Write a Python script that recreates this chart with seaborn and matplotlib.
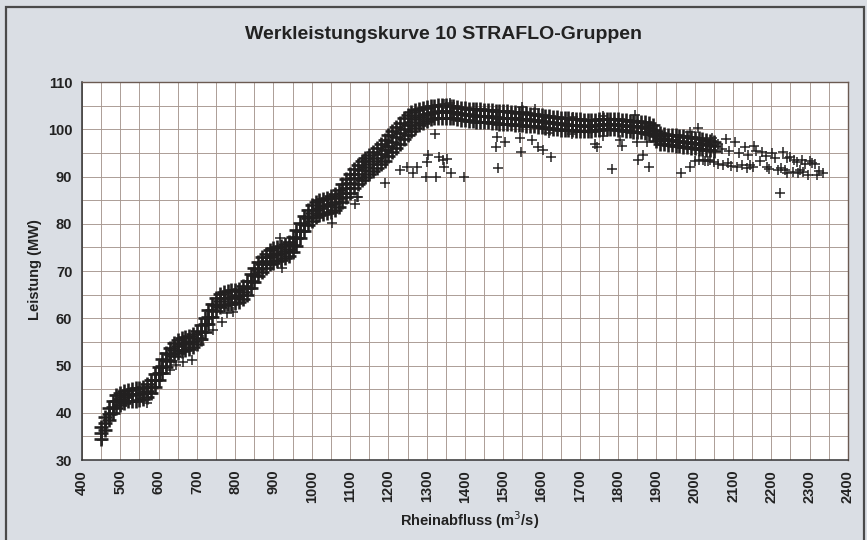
import numpy as np
import pandas as pd
import matplotlib
matplotlib.use("Agg")
from matplotlib import pyplot as plt
from matplotlib.patches import Rectangle
import seaborn as sns

# --- dense band, every 10 m3/s (lower edge, middle, upper edge)
band_x = list(range(450, 2060, 10))
band_lo = [
    34.5, 36.4, 38.4, 40.0, 41.1, 41.7, 42.1, 42.4, 42.5, 42.6, 42.7, 42.9, 43.3, 44.1, 45.5, 47.0,
    48.5, 49.8, 51.0, 52.0, 52.7, 53.1, 53.4, 53.6, 53.9, 54.5, 55.6, 57.2, 58.7, 60.2, 61.5, 62.3,
    62.8, 63.0, 63.1, 63.2, 63.5, 64.0, 65.0, 66.4, 67.7, 68.9, 69.9, 70.7, 71.4, 71.8, 72.1, 72.4,
    72.7, 73.2, 74.0, 75.4, 76.9, 78.4, 79.7, 80.7, 81.4, 81.8, 82.1, 82.3, 82.5, 82.9, 83.6, 84.6,
    85.7, 86.6, 87.6, 88.5, 89.3, 90.0, 90.6, 91.2, 91.8, 92.6, 93.4, 94.3, 95.2, 96.1, 97.0, 97.9,
    98.8, 99.6, 100.3, 100.9, 101.4, 101.8, 102.1, 102.3,
    102.4, 102.5, 102.5, 102.4, 102.3, 102.2, 102.0, 101.9, 101.8, 101.7, 101.6, 101.6, 101.5, 101.5,
    101.4, 101.3, 101.2, 101.2, 101.2, 101.1, 101.0, 100.9, 100.9, 100.8, 100.7, 100.6, 100.5, 100.4,
    100.3, 100.2, 100.1, 100.0, 99.9, 99.8, 99.8, 99.8, 99.7, 99.7, 99.7, 99.7, 99.7, 99.8, 99.9,
    100.0, 100.0, 100.0, 100.0, 99.9, 99.8, 99.7, 99.6, 99.5, 99.5, 99.4, 99.3, 99.1, 98.8, 97.5,
    96.9, 96.8, 96.7, 96.6, 96.5, 96.4, 96.3, 96.2, 96.1, 96.0, 95.9, 95.8, 95.7, 95.6, 95.5,
]
band_mid = [
    35.8, 37.8, 39.8, 41.3, 42.4, 43.0, 43.4, 43.7, 43.9, 43.9, 44.0, 44.2, 44.6, 45.5, 46.9, 48.4,
    49.9, 51.2, 52.4, 53.4, 54.1, 54.5, 54.8, 55.0, 55.3, 55.9, 57.1, 58.7, 60.2, 61.7, 62.9, 63.7,
    64.2, 64.4, 64.5, 64.6, 64.9, 65.5, 66.5, 67.9, 69.2, 70.4, 71.4, 72.2, 72.9, 73.3, 73.6, 73.9,
    74.2, 74.7, 75.6, 77.0, 78.5, 80.0, 81.3, 82.3, 83.0, 83.4, 83.7, 83.9, 84.2, 84.6, 85.4, 86.5,
    87.6, 88.6, 89.6, 90.5, 91.3, 92.0, 92.6, 93.2, 93.9, 94.7, 95.6, 96.5, 97.4, 98.3, 99.2, 100.1,
    100.9, 101.6, 102.2, 102.7, 103.0, 103.3, 103.5, 103.6,
    103.7, 103.8, 103.8, 103.7, 103.6, 103.5, 103.3, 103.2, 103.1, 103.0, 102.9, 102.9, 102.8, 102.8,
    102.7, 102.6, 102.5, 102.5, 102.5, 102.4, 102.3, 102.2, 102.2, 102.1, 102.0, 101.9, 101.8, 101.7,
    101.6, 101.5, 101.4, 101.3, 101.2, 101.1, 101.0, 101.0, 100.9, 100.9, 100.8, 100.8, 100.8, 100.9,
    101.0, 101.1, 101.1, 101.1, 101.1, 101.0, 100.9, 100.8, 100.7, 100.6, 100.6, 100.5, 100.4, 100.2,
    99.8, 98.6,
    98.2, 98.0, 97.8, 97.7, 97.6, 97.5, 97.4, 97.3, 97.2, 97.1, 97.0, 96.9, 96.8, 96.6, 96.4,
]
band_hi = [
    37.0, 39.1, 41.1, 42.6, 43.7, 44.3, 44.6, 44.9, 45.1, 45.2, 45.3, 45.5, 46.0, 46.9, 48.3, 49.8,
    51.3, 52.6, 53.8, 54.8, 55.4, 55.8, 56.1, 56.3, 56.7, 57.3, 58.5, 60.1, 61.7, 63.1, 64.3, 65.1,
    65.6, 65.8, 65.9, 66.0, 66.3, 66.9, 68.0, 69.4, 70.7, 71.9, 72.9, 73.7, 74.4, 74.8, 75.1, 75.4,
    75.7, 76.2, 77.2, 78.6, 80.1, 81.6, 82.9, 83.9, 84.6, 85.0, 85.3, 85.5, 85.9, 86.3, 87.2, 88.4,
    89.5, 90.6, 91.6, 92.5, 93.3, 94.0, 94.6, 95.2, 96.0, 96.8, 97.8, 98.7, 99.6, 100.5, 101.4, 102.3,
    103.0, 103.6, 104.1, 104.4, 104.6, 104.8, 104.9, 105.0,
    105.1, 105.2, 105.1, 105.0, 104.9, 104.8, 104.6, 104.5, 104.4, 104.3, 104.2, 104.2, 104.1, 104.1,
    104.0, 103.9, 103.8, 103.8, 103.9, 103.7, 103.6, 103.5, 103.6, 103.4, 103.3, 103.2, 103.1, 103.0,
    102.9, 102.8, 102.7, 102.6, 102.5, 102.4, 102.3, 102.2, 102.1, 102.1, 102.0, 102.0, 102.0, 102.0,
    102.1, 102.2, 102.2, 102.2, 102.2, 102.1, 102.0, 101.9, 101.8, 101.7, 101.7, 101.6, 101.5, 101.3,
    100.9, 99.7,
    99.3, 99.1, 98.9, 98.8, 98.7, 98.6, 98.5, 98.4, 98.3, 98.2, 98.1, 98.0, 97.8, 97.6, 97.3,
]

# --- loose points (stragglers and the thin tail above 2050 m3/s)
loose_x = [
    452, 570, 630, 645, 664, 687, 716, 742, 765, 778, 795, 917, 922, 1053,
    1113, 1117, 1121, 1191, 1230, 1248, 1265, 1274, 1298, 1300, 1304, 1322, 1324, 1332, 1343,
    1345, 1345, 1353, 1360, 1364, 1397, 1481, 1483, 1487, 1504, 1544, 1546, 1550, 1574, 1582,
    1590, 1603, 1620, 1624, 1680, 1682, 1740, 1744, 1760, 1760, 1784, 1805, 1809, 1845, 1849,
    1851, 1864, 1875, 1880, 1963, 1987, 1987, 2000, 2008, 2010, 2021, 2028, 2034, 2040, 2044,
    2050, 2060, 2062, 2070, 2073, 2081, 2086, 2090, 2095, 2104, 2110, 2115, 2123, 2130, 2136,
    2140, 2145, 2152, 2154, 2160, 2170, 2175, 2185, 2188, 2195, 2201, 2209, 2217, 2222, 2225,
    2230, 2235, 2240, 2240, 2248, 2256, 2260, 2266, 2269, 2274, 2280, 2282, 2287, 2295, 2300,
    2305, 2313, 2318, 2325, 2334,
]
loose_y = [
    34.2, 42.0, 49.0, 50.1, 50.7, 51.2, 55.4, 57.5, 59.2, 61.1, 61.4, 77.0, 70.6, 80.1,
    84.2, 85.7, 85.6, 88.7, 91.4, 92.0, 90.7, 92.0, 89.9, 93.0, 94.5, 99.0, 89.9, 94.1, 93.5,
    92.0, 105.3, 93.7, 105.6, 90.7, 90.0, 96.3, 98.4, 91.8, 97.3, 98.1, 95.2, 104.8, 97.7, 104.2,
    96.3, 95.6, 99.2, 94.1, 99.0, 102.6, 97.0, 96.3, 98.5, 102.9, 91.6, 97.7, 96.5, 103.0, 97.3,
    93.5, 94.5, 97.3, 92.0, 90.7, 92.0, 99.4, 93.3, 100.2, 93.5, 93.5, 93.2, 93.3, 93.6, 98.2,
    93.0, 96.8, 92.6, 95.9, 92.4, 97.9, 92.8, 95.5, 92.2, 97.3, 92.0, 95.0, 92.4, 96.2, 91.8,
    94.6, 92.5, 92.0, 96.5, 95.4, 93.3, 95.2, 94.4, 92.0, 91.5, 95.0, 93.9, 91.4, 86.6, 91.8,
    95.2, 91.4, 90.7, 94.0, 94.1, 91.0, 93.5, 93.1, 90.7, 91.4, 93.6, 91.0, 92.6, 90.3, 93.2,
    92.8, 92.6, 90.3, 91.2, 90.7,
]

x_ticks = list(range(400, 2500, 100))
y_ticks = list(range(30, 120, 10))

band = pd.DataFrame({
    "abfluss": band_x * 3,
    "leistung": band_lo + band_mid + band_hi,
})
loose = pd.DataFrame({"abfluss": loose_x, "leistung": loose_y})

sns.set_theme(style="white")
plt.rcParams["font.family"] = ["Liberation Sans", "DejaVu Sans"]

fig = plt.figure(figsize=(8.67, 5.40), dpi=100)
fig.patch.set_facecolor("#dadee4")
ax = fig.add_axes([0.0946, 0.148, 0.8834, 0.700])
ax.set_facecolor("white")

# the scanned cloud is so dense it reads as a solid ribbon
sns.scatterplot(data=band, x="abfluss", y="leistung", marker="+", s=100,
                color="#222020", linewidth=1.9, ax=ax, legend=False)
sns.scatterplot(data=loose, x="abfluss", y="leistung", marker="+", s=48,
                color="#262424", linewidth=1.1, ax=ax, legend=False)

ax.set_xlim(400, 2400)
ax.set_ylim(30, 110)
ax.set_xticks(x_ticks)
ax.set_xticks(list(range(450, 2400, 100)), minor=True)
ax.set_yticks(y_ticks)
ax.set_yticks(list(range(35, 110, 10)), minor=True)
ax.set_xticklabels([str(t) for t in x_ticks], rotation=90, fontsize=10.5, fontweight="bold", color="#222")
ax.set_yticklabels([str(t) for t in y_ticks], fontsize=10.5, fontweight="bold", color="#222")
ax.grid(True, which="both", color="#a6978f", linewidth=0.65)
ax.set_axisbelow(True)
ax.tick_params(axis="both", which="major", direction="out", length=4, width=1, color="#333", pad=3)
ax.tick_params(axis="both", which="minor", length=0)
ax.set_xlabel("")
ax.set_ylabel("")
for side in ["left", "bottom"]:
    ax.spines[side].set_color("#333")
    ax.spines[side].set_linewidth(1.1)
for side in ["top", "right"]:
    ax.spines[side].set_color("#6b5a52")
    ax.spines[side].set_linewidth(1.0)

fig.text(0.512, 0.937, "Werkleistungskurve 10 STRAFLO-Gruppen", ha="center", va="center",
         fontsize=14, fontweight="bold", color="#222")
fig.text(0.542, 0.036, "Rheinabfluss (m$^3$/s)", ha="center", va="center",
         fontsize=10.5, fontweight="bold", color="#222")
fig.text(0.040, 0.50, "Leistung (MW)", ha="center", va="center", rotation=90,
         fontsize=10.5, fontweight="bold", color="#222")

# dark frame of the scanned chart
fig.patches.append(Rectangle((0.007, -0.02), 0.99, 1.007, transform=fig.transFigure,
                             fill=False, edgecolor="#4a4a4a", linewidth=1.6))

fig.savefig("out.png", dpi=100, facecolor=fig.get_facecolor())
